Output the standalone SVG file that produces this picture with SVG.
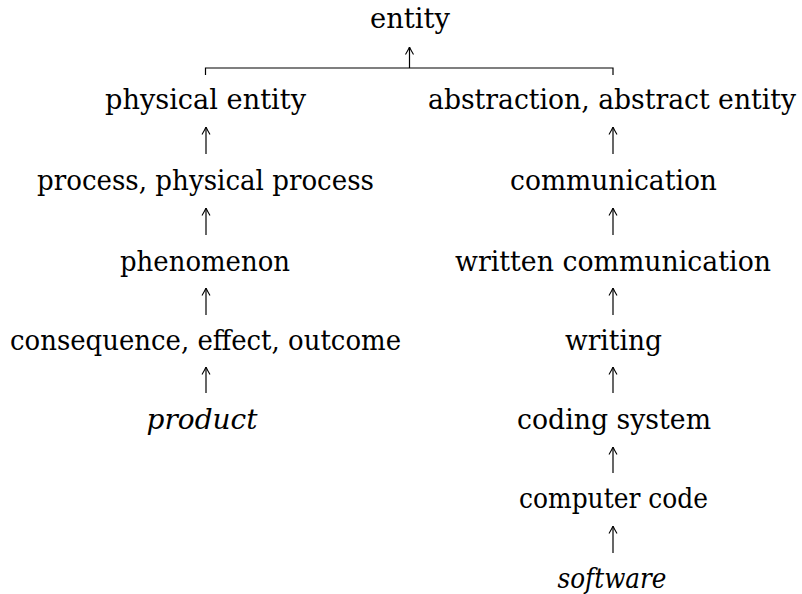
<svg xmlns="http://www.w3.org/2000/svg" width="802" height="594" viewBox="0 0 802 594">
<style>
text{font-family:"DejaVu Serif","Liberation Serif","Noto Serif","Times New Roman",serif;font-size:27px;fill:#000;text-anchor:middle}
.it{font-style:italic}
.c{stroke:#000;stroke-width:1.2;fill:none}
</style>
<defs>
<marker id="ah" viewBox="0 0 10 10" refX="10" refY="5" markerWidth="10" markerHeight="10" markerUnits="userSpaceOnUse" orient="auto">
<path d="M2.5,1 Q7.5,4 10,5 Q7.5,6 2.5,9" fill="none" stroke="#000" stroke-width="1.1"/>
</marker>
</defs>
<rect width="802" height="594" fill="#fff"/>
<g id="connectors">
<path class="c" d="M205.5,75 V68 H613 V75"/>
<line class="c" x1="409.5" y1="68" x2="409.5" y2="47" marker-end="url(#ah)"/>
<line class="c" x1="206" y1="154" x2="206" y2="127" marker-end="url(#ah)"/>
<line class="c" x1="206" y1="235" x2="206" y2="208" marker-end="url(#ah)"/>
<line class="c" x1="206" y1="315" x2="206" y2="288" marker-end="url(#ah)"/>
<line class="c" x1="206" y1="393" x2="206" y2="367" marker-end="url(#ah)"/>
<line class="c" x1="613" y1="154" x2="613" y2="127" marker-end="url(#ah)"/>
<line class="c" x1="613" y1="235" x2="613" y2="208" marker-end="url(#ah)"/>
<line class="c" x1="613" y1="315" x2="613" y2="288" marker-end="url(#ah)"/>
<line class="c" x1="613" y1="393" x2="613" y2="367" marker-end="url(#ah)"/>
<line class="c" x1="613" y1="473" x2="613" y2="447" marker-end="url(#ah)"/>
<line class="c" x1="613" y1="553" x2="613" y2="526" marker-end="url(#ah)"/>
</g>
<g id="entity"><text x="410" y="28" textLength="80" lengthAdjust="spacingAndGlyphs">entity</text></g>
<g id="physical-entity"><text x="205.5" y="109" textLength="201" lengthAdjust="spacingAndGlyphs">physical entity</text></g>
<g id="process"><text x="205.5" y="190" textLength="337" lengthAdjust="spacingAndGlyphs">process, physical process</text></g>
<g id="phenomenon"><text x="205" y="271" textLength="170" lengthAdjust="spacingAndGlyphs">phenomenon</text></g>
<g id="consequence"><text x="205.5" y="350" textLength="391" lengthAdjust="spacingAndGlyphs">consequence, effect, outcome</text></g>
<g id="product"><text class="it" x="202" y="429" textLength="111" lengthAdjust="spacingAndGlyphs">product</text></g>
<g id="abstraction"><text x="612" y="109" textLength="368" lengthAdjust="spacingAndGlyphs">abstraction, abstract entity</text></g>
<g id="communication"><text x="613.5" y="190" textLength="207" lengthAdjust="spacingAndGlyphs">communication</text></g>
<g id="written-communication"><text x="613" y="271" textLength="316" lengthAdjust="spacingAndGlyphs">written communication</text></g>
<g id="writing"><text x="613.5" y="350" textLength="97" lengthAdjust="spacingAndGlyphs">writing</text></g>
<g id="coding-system"><text x="614" y="429" textLength="194" lengthAdjust="spacingAndGlyphs">coding system</text></g>
<g id="computer-code"><text x="613.5" y="508" textLength="189" lengthAdjust="spacingAndGlyphs">computer code</text></g>
<g id="software"><text class="it" x="612" y="588" textLength="109" lengthAdjust="spacingAndGlyphs">software</text></g>
</svg>
